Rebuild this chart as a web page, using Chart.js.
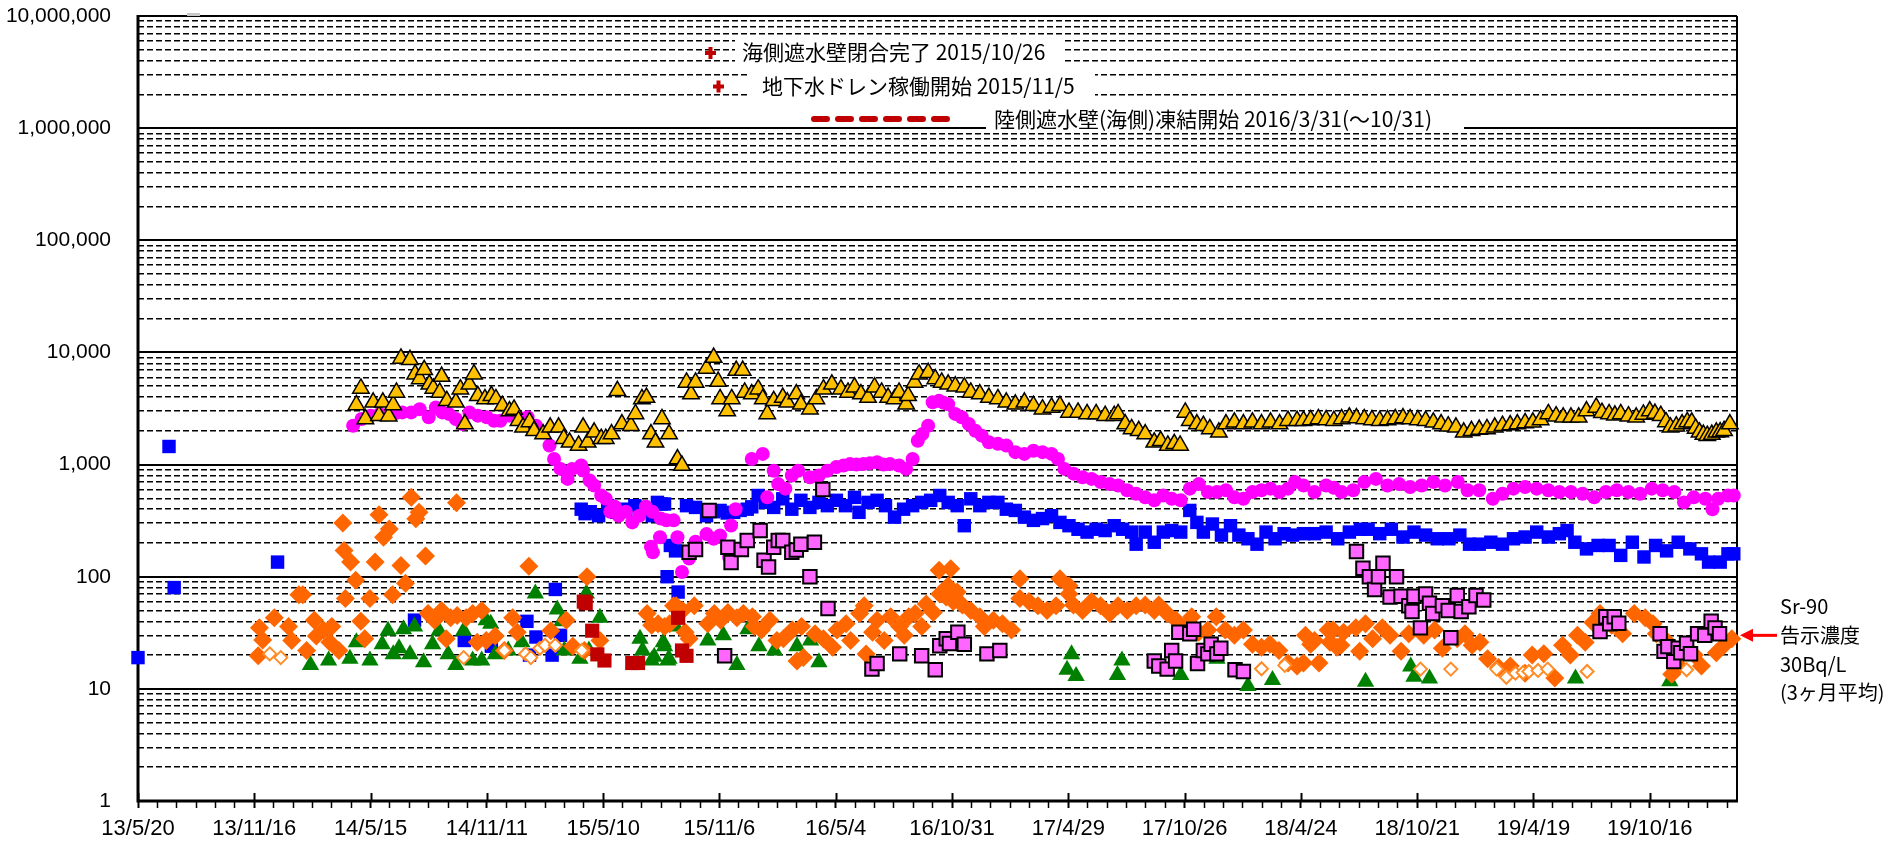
<!DOCTYPE html>
<html>
<head>
<meta charset="utf-8">
<script src="https://cdn.jsdelivr.net/npm/chart.js@4.4.1/dist/chart.umd.min.js"></script>
<style>
  html, body { margin: 0; padding: 0; background: #fff; }
  canvas { display: block; }
</style>
</head>
<body>
<canvas id="myChart" width="1889" height="844"></canvas>
<script>
// x values are days counted from 2013/5/20
let xMaxDay = 2475;
let xTickLabels = ["13/5/20", "13/11/16", "14/5/15", "14/11/11", "15/5/10", "15/11/6", "16/5/4",
  "16/10/31", "17/4/29", "17/10/26", "18/4/24", "18/10/21", "19/4/19", "19/10/16"];
let yTickLabels = ["1", "10", "100", "1,000", "10,000", "100,000", "1,000,000", "10,000,000"];

let goldTri = [
  [338,3400],[345,4780],[352,2550],[364,3590],[373,2730],[379,3590],[388,2700],[395,3400],[400,4400],[407,8850],
  [421,8600],[429,6400],[436,5800],[443,7000],[451,5200],[457,4780],[467,4400],[470,6100],[478,3700],[492,3590],
  [499,4700],[506,2300],[513,5200],[520,6400],[526,4100],[537,3850],[547,4100],[554,3850],[564,3350],[575,3000],
  [582,3100],[589,2460],[596,2150],[606,2400],[613,2000],[627,1870],[638,2150],[651,2150],[659,1700],[668,1580],
  [682,1480],[689,2150],[696,1580],[706,1940],[717,1700],[724,1700],[733,1870],[742,4550],[749,2300],[763,2220],
  [770,2830],[780,3850],[787,3960],[794,1870],[801,1580],[811,2550],[822,1870],[835,1120],[842,980],[849,5400],
  [856,4250],[863,5400],[880,7200],[891,9000],[898,5500],[901,3850],[912,3000],[919,3850],[926,6900],[936,6900],
  [939,4400],[950,4250],[960,4700],[967,3850],[974,2830],[984,3700],[998,3960],[1005,3590],[1019,4250],[1026,3450],
  [1040,3120],[1050,3850],[1061,4700],[1074,5200],[1088,4700],[1099,4400],[1109,4900],[1119,4250],[1130,3960],[1140,4900],
  [1151,4400],[1161,3960],[1171,3850],[1178,4400],[1189,3450],[1192,4100],[1202,5400],[1209,6400],[1223,6600],[1234,5800],
  [1244,5400],[1254,5200],[1265,5000],[1279,4900],[1289,4400],[1303,4250],[1317,3960],[1331,3850],[1344,3590],[1358,3450],
  [1372,3590],[1386,3350],[1400,3120],[1414,3230],[1427,3350],[1441,2920],[1455,2920],[1469,2830],[1483,2830],[1497,2730],
  [1511,2730],[1517,2830],[1528,2300],[1538,2080],[1549,2000],[1559,1870],[1573,1580],[1583,1630],[1594,1480],[1604,1530],
  [1613,1480],[1621,2920],[1628,2460],[1639,2300],[1649,2220],[1659,2080],[1673,1940],[1684,2300],[1697,2380],[1711,2300],
  [1725,2380],[1739,2300],[1753,2380],[1767,2300],[1780,2460],[1794,2460],[1804,2460],[1815,2500],[1827,2550],[1839,2500],
  [1851,2460],[1863,2550],[1875,2640],[1886,2600],[1898,2550],[1910,2500],[1922,2460],[1934,2500],[1946,2550],[1958,2600],
  [1969,2550],[1981,2500],[1993,2460],[2005,2380],[2017,2300],[2028,2200],[2040,2150],[2052,1940],[2064,2000],[2076,2050],
  [2088,2080],[2100,2150],[2112,2220],[2124,2250],[2135,2300],[2147,2350],[2159,2380],[2171,2500],[2183,2830],[2195,2700],
  [2206,2640],[2218,2640],[2230,2640],[2242,3000],[2257,3230],[2266,2900],[2277,2830],[2286,2750],[2295,2830],[2307,2700],
  [2319,2640],[2330,2800],[2340,3000],[2348,2850],[2357,2730],[2365,2400],[2372,2150],[2381,2200],[2390,2300],[2398,2400],
  [2405,2380],[2411,2100],[2417,1940],[2423,1850],[2429,1810],[2436,1850],[2443,1940],[2449,1950],[2455,2000],[2464,2300]
];

let magentaDot = [
  [333,2220],[346,2550],[360,2730],[374,2830],[388,2830],[400,2900],[409,2920],[423,2920],[436,3120],[450,2640],
  [461,3230],[471,2920],[481,2830],[492,2550],[502,2300],[513,2920],[526,2730],[540,2640],[551,2460],[561,2460],
  [575,2730],[589,2640],[603,2640],[616,2220],[627,1940],[637,1480],[644,1120],[654,915],[665,745],[672,915],
  [686,980],[689,885],[699,720],[706,650],[717,530],[724,495],[731,380],[738,420],[744,350],[755,380],
  [765,305],[776,350],[786,420],[796,380],[797,165],[794,185],[808,225],[809,330],[818,318],[829,318],
  [835,225],[842,110],[853,145],[863,205],[880,240],[891,218],[901,233],[915,150],[918,286],[925,400],
  [950,1120],[967,1245],[974,510],[984,880],[991,670],[1002,610],[1012,800],[1022,880],[1040,770],[1054,800],
  [1067,880],[1081,950],[1092,980],[1102,1010],[1112,1000],[1123,1010],[1133,1030],[1144,1050],[1154,1000],[1164,1010],
  [1178,980],[1189,915],[1199,1120],[1207,1630],[1214,1870],[1223,2220],[1230,3590],[1240,3700],[1247,3550],[1254,3450],
  [1265,2830],[1275,2640],[1286,2300],[1296,2000],[1306,1810],[1317,1580],[1331,1530],[1344,1480],[1358,1290],[1372,1245],
  [1386,1330],[1400,1290],[1414,1245],[1424,1120],[1434,915],[1448,830],[1462,770],[1476,745],[1490,700],[1504,670],
  [1517,650],[1531,590],[1545,550],[1559,510],[1573,480],[1587,530],[1600,495],[1614,480],[1628,610],[1642,670],
  [1656,570],[1670,570],[1684,590],[1697,510],[1711,495],[1725,570],[1739,590],[1753,610],[1767,570],[1780,610],
  [1791,700],[1804,650],[1821,570],[1839,650],[1851,620],[1863,570],[1881,590],[1898,700],[1916,745],[1934,650],
  [1952,670],[1969,630],[1987,650],[2005,700],[2023,650],[2043,700],[2058,590],[2076,590],[2097,495],[2112,550],
  [2129,610],[2147,630],[2165,610],[2183,590],[2200,570],[2218,570],[2236,550],[2254,510],[2272,570],[2289,590],
  [2307,570],[2325,550],[2343,610],[2360,590],[2378,570],[2393,460],[2408,510],[2426,495],[2437,400],[2446,495],
  [2461,530],[2470,530]
];

let blueSq = [
  [0,19],[48,1450],[56,80],[216,135],[428,41],[505,27],[547,24],[602,40],[606,20],[616,29],[641,20],[646,77],[654,30],
  [686,400],[692,365],[700,380],[713,350],[727,430],[741,375],[749,400],[755,390],[769,430],[782,415],[796,350],[804,460],
  [810,445],[815,445],[819,100],[824,190],[832,170],[836,73],[849,430],[863,415],[880,350],[891,380],[901,390],[912,370],
  [922,375],[932,390],[943,400],[950,420],[960,530],[971,460],[984,415],[998,495],[1012,400],[1026,480],[1040,415],[1054,460],
  [1067,430],[1081,480],[1095,430],[1109,510],[1116,375],[1130,460],[1144,480],[1157,430],[1171,340],[1185,400],[1199,430],
  [1213,460],[1227,480],[1241,530],[1254,460],[1268,430],[1279,285],[1289,495],[1303,430],[1317,460],[1331,460],[1344,400],
  [1358,390],[1372,340],[1386,318],[1400,330],[1414,350],[1427,305],[1441,285],[1455,265],[1469,250],[1483,265],[1497,258],
  [1511,285],[1524,265],[1538,250],[1545,195],[1559,250],[1573,203],[1587,250],[1600,258],[1614,250],[1628,390],[1639,305],
  [1649,250],[1663,295],[1677,235],[1691,285],[1704,235],[1718,218],[1732,195],[1746,250],[1760,218],[1774,242],[1787,235],
  [1804,242],[1821,242],[1839,250],[1857,218],[1875,250],[1892,265],[1904,265],[1922,242],[1940,265],[1958,226],[1975,250],
  [1993,235],[2011,218],[2029,218],[2046,235],[2061,195],[2076,195],[2094,203],[2112,195],[2129,218],[2147,226],[2165,250],
  [2183,226],[2200,242],[2212,258],[2224,203],[2242,177],[2260,190],[2277,190],[2295,155],[2313,203],[2331,150],[2349,190],
  [2366,170],[2384,203],[2402,177],[2420,160],[2431,135],[2449,135],[2461,160],[2470,160]
];

let orangeDia = [
  [186,19.7],[188,35],[193,27.3],[211,43],[233,36],[238,27],[249,69],[255,69],[261,22],[273,41],[276,29.6],[287,33.5],
  [297,26],[300,36],[311,22],[317,302],[319,171],[321,64],[329,135],[337,93],[345,40],[351,28],[359,64],[367,135],
  [373,356],[380,225],[389,267],[394,69],[407,126],[414,87.5],[423,512],[430,328],[435,376],[445,153],[449,47],[459,41],
  [470,50],[477,28],[484,43],[493,456],[494,45],[508,43],[518,47],[525,26],[532,50],[539,27],[553,29.6],[567,22],
  [580,43],[587,32],[605,124],[639,33],[663,41],[673,24],[691,22],[695,100],[715,27],[788,47],[795,37],[805,38],
  [815,36],[823,38],[829,55],[833,55],[843,50],[847,32],[853,28],[861,55],[882,38],[892,47],[902,41],[913,48],
  [927,43],[937,47],[951,44],[954,36],[965,33.5],[978,41],[989,27],[999,28],[1013,33.5],[1020,17.7],[1027,36],[1030,19],
  [1048,31],[1061,28],[1075,23.5],[1082,33.5],[1096,38],[1103,27],[1117,47],[1124,55],[1127,20.5],[1137,32],[1144,41],[1155,27],
  [1165,44],[1179,36],[1186,30],[1193,44],[1203,47],[1213,36],[1220,57],[1231,48],[1240,114],[1241,70],[1251,66],[1254,83],
  [1258,118],[1262,60],[1268,73],[1276,56],[1289,50],[1303,44],[1310,36],[1324,41],[1338,38],[1352,33.5],[1365,96],[1365,64],
  [1379,60],[1393,55],[1407,50],[1421,55],[1427,96],[1441,83],[1441,70],[1448,56],[1462,50],[1476,60],[1490,55],[1504,47],
  [1517,55],[1531,50],[1545,55],[1559,56],[1573,50],[1580,56],[1593,47],[1607,41],[1621,36],[1631,44],[1642,32],[1656,33.5],
  [1669,44],[1683,33.5],[1697,30],[1711,33.5],[1725,25],[1739,23.5],[1752,25],[1766,22],[1780,17],[1794,16],[1804,17],[1807,30],
  [1815,25],[1821,27],[1828,17],[1842,33.5],[1845,26],[1850,33.5],[1856,23.5],[1862,24.5],[1866,32],[1885,35],[1891,21.6],[1900,38],
  [1911,28],[1926,35],[1938,30],[1955,21.6],[1967,31],[1990,30],[2007,33.5],[2019,23],[2042,28],[2054,31],[2065,24.5],[2077,26],
  [2089,18.6],[2106,15.5],[2124,16],[2147,13.8],[2158,20],[2176,20.6],[2193,12.5],[2205,24.5],[2217,20],[2228,30],[2240,26],[2252,39],
  [2263,47],[2281,37],[2298,31],[2316,47],[2333,43],[2345,38],[2350,31],[2368,26],[2374,13.5],[2385,16],[2409,20],[2420,16],
  [2432,31],[2443,21],[2455,24.5],[2467,28]
];

let orangeOpen = [
  [204,20.5],[221,19],[504,19],[567,22],[600,20.5],[608,19],[622,23],[630,24.5],[646,24.5],[687,22],
  [1739,15.1],[1775,16.2],[1985,15],[2032,15],[2103,15],[2118,12.7],[2132,13.8],[2144,14],[2153,14.3],[2167,14.6],
  [2182,15],[2243,14.3],[2397,14.8]
];

let greenTri = [
  [267,16.3],[295,17.9],[328,18.6],[338,26],[359,17.9],[378,25],[387,33],[395,20.3],[404,23],[411,34],[421,20.3],[428,36],
  [442,17.3],[456,25],[466,33],[480,20.3],[492,16.3],[504,33],[518,17.9],[532,17.9],[539,41],[546,38],[553,20.3],[573,22],
  [594,26],[615,71],[649,51],[656,40],[660,22],[684,18.6],[694,71],[698,22],[715,43],[777,28],[781,22],[795,17.9],
  [799,19.3],[813,26],[815,24],[820,17.9],[822,18.6],[832,36],[882,27],[906,30],[927,16.3],[944,34],[961,24],[985,22],
  [1020,24],[1041,27],[1054,17.3],[1438,14.8],[1445,20.3],[1452,13],[1516,13.3],[1523,17.9],[1614,13.3],[1670,18.6],
  [1718,10.6],[1756,12],[1900,11.6],[1970,15.8],[1975,12.8],[1999,12.4],[2225,12.4],[2371,11.7]
];

let darkRedSq = [
  [690,60],[693,58],[703,33],[711,20.3],[722,17.9],[765,17],[774,17],[836,43],[842,22],[849,19.7]
];

let pinkSq = [
  [853,165],[863,175],[884,390],[908,19.7],[913,183],[918,134],[934,175],[943,210],[963,258],[969,140],[976,122],[984,183],
  [991,210],[998,210],[1012,165],[1019,173],[1026,195],[1040,100],[1047,203],[1060,600],[1068,52],[1136,15],[1144,16.8],[1179,20.5],
  [1213,19.7],[1234,14.8],[1241,24.2],[1251,28],[1256,25.4],[1269,32],[1279,25],[1314,20.5],[1334,22],[1573,17.7],[1580,16],[1593,15],
  [1600,22],[1606,17.7],[1611,32],[1628,31],[1634,34],[1640,16.8],[1649,22],[1656,20.5],[1661,25],[1670,20.5],[1676,23],[1698,14.8],
  [1711,14.3],[1886,168],[1896,119],[1906,100],[1914,77],[1920,100],[1927,132],[1938,66],[1948,100],[1955,67],[1967,55],[1972,49],
  [1975,67],[1985,35],[1993,70],[1999,58],[2004,47],[2019,55],[2028,50],[2032,28.6],[2042,68],[2048,49],[2060,54],[2071,68],
  [2083,62],[2263,32.5],[2272,44],[2278,38],[2285,44],[2292,38.5],[2356,31],[2362,21.6],[2368,23.8],[2377,17.5],[2384,23],[2388,21],
  [2397,25.5],[2403,20.6],[2414,31],[2425,30],[2435,40],[2441,35],[2448,31]
];

let limitValue = 30;
let noteLines = ["Sr-90", "告示濃度", "30Bq/L", "(3ヶ月平均)"];
let eventLabels = ["海側遮水壁閉合完了 2015/10/26", "地下水ドレン稼働開始 2015/11/5", "陸側遮水壁(海側)凍結開始 2016/3/31(～10/31)"];

function pts(list) {
  return list.map(function (p) { return { x: p[0], y: p[1] }; });
}

function isDecade(v) {
  let e = Math.log10(v);
  return Math.abs(e - Math.round(e)) < 1e-9;
}

let numFont = '"Liberation Sans", Arial, sans-serif';
let jpFont = '"Noto Sans CJK JP", sans-serif';

let frame = {
  id: "frame",
  beforeDatasetsDraw(chart) {
    let ctx = chart.ctx;
    let a = chart.chartArea;
    let xs = chart.scales.x;
    ctx.save();
    ctx.strokeStyle = "#000";
    // major x ticks reaching up into the plot
    ctx.lineWidth = 2;
    for (let i = 0; i < xTickLabels.length; i++) {
      let px = Math.round(xs.getPixelForValue(i * 180)) + 0.5;
      ctx.beginPath();
      ctx.moveTo(px, a.bottom - 8);
      ctx.lineTo(px, a.bottom);
      ctx.stroke();
    }
    ctx.lineWidth = 2;
    ctx.beginPath();
    ctx.moveTo(a.left, a.top);
    ctx.lineTo(a.right, a.top);
    ctx.moveTo(a.right, a.top);
    ctx.lineTo(a.right, a.bottom);
    ctx.stroke();
    ctx.lineWidth = 3;
    ctx.beginPath();
    ctx.moveTo(a.left, a.top - 1);
    ctx.lineTo(a.left, a.bottom + 1.5);
    ctx.moveTo(a.left - 1.5, a.bottom);
    ctx.lineTo(a.right + 1, a.bottom);
    ctx.stroke();
    ctx.fillStyle = "#c8c8c8";
    ctx.fillRect(187, a.top - 3, 13, 3);
    ctx.restore();
  },
  afterDraw(chart) {
    let ctx = chart.ctx;
    let a = chart.chartArea;
    let ys = chart.scales.y;
    ctx.save();
    // event legend boxes
    ctx.fillStyle = "#fff";
    ctx.fillRect(735, 38, 327, 27);
    ctx.fillRect(750, 71, 345, 29);
    ctx.fillRect(986, 106, 478, 26);
    ctx.fillStyle = "#c00000";
    ctx.fillRect(705, 51, 11, 4);
    ctx.fillRect(708.5, 47, 4, 12);
    ctx.fillRect(713, 84.5, 11, 4);
    ctx.fillRect(716.5, 80.5, 4, 12);
    ctx.strokeStyle = "#c00000";
    ctx.lineWidth = 6;
    ctx.lineCap = "round";
    ctx.setLineDash([13, 11]);
    ctx.beginPath();
    ctx.moveTo(814, 119);
    ctx.lineTo(947, 119);
    ctx.stroke();
    ctx.setLineDash([]);
    ctx.fillStyle = "#000";
    ctx.font = "21px " + jpFont;
    ctx.textBaseline = "middle";
    ctx.textAlign = "left";
    ctx.fillText(eventLabels[0], 742, 52);
    ctx.fillText(eventLabels[1], 762, 86);
    ctx.fillText(eventLabels[2], 994, 119);

    // limit arrow and note on the right
    let y30 = ys.getPixelForValue(limitValue);
    ctx.strokeStyle = "#ff0000";
    ctx.fillStyle = "#ff0000";
    ctx.lineWidth = 3;
    ctx.lineCap = "butt";
    ctx.beginPath();
    ctx.moveTo(1777, y30);
    ctx.lineTo(1752, y30);
    ctx.stroke();
    ctx.beginPath();
    ctx.moveTo(a.right + 3, y30);
    ctx.lineTo(a.right + 16, y30 - 6.5);
    ctx.lineTo(a.right + 16, y30 + 6.5);
    ctx.closePath();
    ctx.fill();
    ctx.fillStyle = "#000";
    ctx.font = "20px " + jpFont;
    let offs = [-29, 0, 29, 57];
    for (let i = 0; i < noteLines.length; i++) {
      ctx.fillText(noteLines[i], 1780, y30 + offs[i]);
    }
    ctx.restore();
  }
};

let ctx = document.getElementById("myChart").getContext("2d");
let myChart = new Chart(ctx, {
  type: "scatter",
  data: {
    datasets: [
      {
        label: "pink",
        data: pts(pinkSq),
        pointStyle: "rect",
        pointRadius: 9.5,
        backgroundColor: "#ff66ff",
        borderColor: "#000",
        borderWidth: 2,
      },
      {
        label: "darkred",
        data: pts(darkRedSq),
        pointStyle: "rect",
        pointRadius: 10,
        backgroundColor: "#c00000",
        borderWidth: 0,
      },
      {
        label: "orange open",
        data: pts(orangeOpen),
        pointStyle: "rectRot",
        pointRadius: 6.5,
        backgroundColor: "#fff",
        borderColor: "#ff8c26",
        borderWidth: 2,
      },
      {
        label: "orange",
        data: pts(orangeDia),
        pointStyle: "rectRot",
        pointRadius: 9.5,
        backgroundColor: "#ff6600",
        borderWidth: 0,
      },
      {
        label: "green",
        data: pts(greenTri),
        pointStyle: "triangle",
        pointRadius: 10,
        backgroundColor: "#008000",
        borderWidth: 0,
      },
      {
        label: "gold",
        data: pts(goldTri),
        pointStyle: "triangle",
        pointRadius: 9.5,
        backgroundColor: "#ffc000",
        borderColor: "#000",
        borderWidth: 1.5,
      },
      {
        label: "magenta",
        data: pts(magentaDot),
        pointStyle: "circle",
        pointRadius: 7,
        backgroundColor: "#ff00ff",
        borderWidth: 0,
      },
      {
        label: "blue",
        data: pts(blueSq),
        pointStyle: "rect",
        pointRadius: 9.5,
        backgroundColor: "#0000ff",
        borderWidth: 0,
      },
    ],
  },
  options: {
    responsive: false,
    devicePixelRatio: 1,
    animation: false,
    layout: { padding: { top: 16, right: 152, left: 0, bottom: 0 } },
    datasets: { scatter: { clip: false } },
    plugins: {
      legend: { display: false },
      tooltip: { enabled: false },
    },
    scales: {
      x: {
        type: "linear",
        min: 0,
        max: xMaxDay,
        afterBuildTicks: function (scale) {
          let t = [];
          for (let d = 0; d < xMaxDay; d += 30) t.push({ value: d });
          scale.ticks = t;
        },
        afterFit: function (scale) {
          scale.height = 43;
          scale.paddingLeft = 0;
          scale.paddingRight = 0;
        },
        border: { display: false },
        grid: {
          drawOnChartArea: false,
          drawTicks: true,
          tickLength: 7,
          tickColor: "#000",
          tickWidth: function (c) { return c.tick && c.tick.value % 180 === 0 ? 2 : 1.5; },
        },
        ticks: {
          autoSkip: false,
          maxRotation: 0,
          padding: 8,
          color: "#000",
          font: { family: numFont, size: 22 },
          callback: function (value) {
            return value % 180 === 0 ? xTickLabels[value / 180] : "";
          },
        },
      },
      y: {
        type: "logarithmic",
        min: 1,
        max: 10000000,
        afterBuildTicks: function (scale) {
          let t = [];
          for (let e = 0; e < yTickLabels.length; e++) {
            for (let m = 1; m <= 9; m++) {
              if (e === yTickLabels.length - 1 && m > 1) break;
              t.push({ value: m * Math.pow(10, e) });
            }
          }
          scale.ticks = t;
        },
        afterFit: function (scale) {
          scale.width = 138;
          scale.paddingTop = 0;
          scale.paddingBottom = 0;
        },
        border: {
          display: false,
          dash: function (c) { return c.tick && !isDecade(c.tick.value) ? [6, 3] : []; },
        },
        grid: {
          drawTicks: false,
          color: "#000",
          lineWidth: function (c) { return c.tick && isDecade(c.tick.value) ? 2 : 1.5; },
        },
        ticks: {
          autoSkip: false,
          padding: 27,
          color: "#000",
          font: { family: numFont, size: 21 },
          callback: function (value) {
            return isDecade(value) ? yTickLabels[Math.round(Math.log10(value))] : "";
          },
        },
      },
    },
  },
  plugins: [frame],
});
</script>
</body>
</html>
